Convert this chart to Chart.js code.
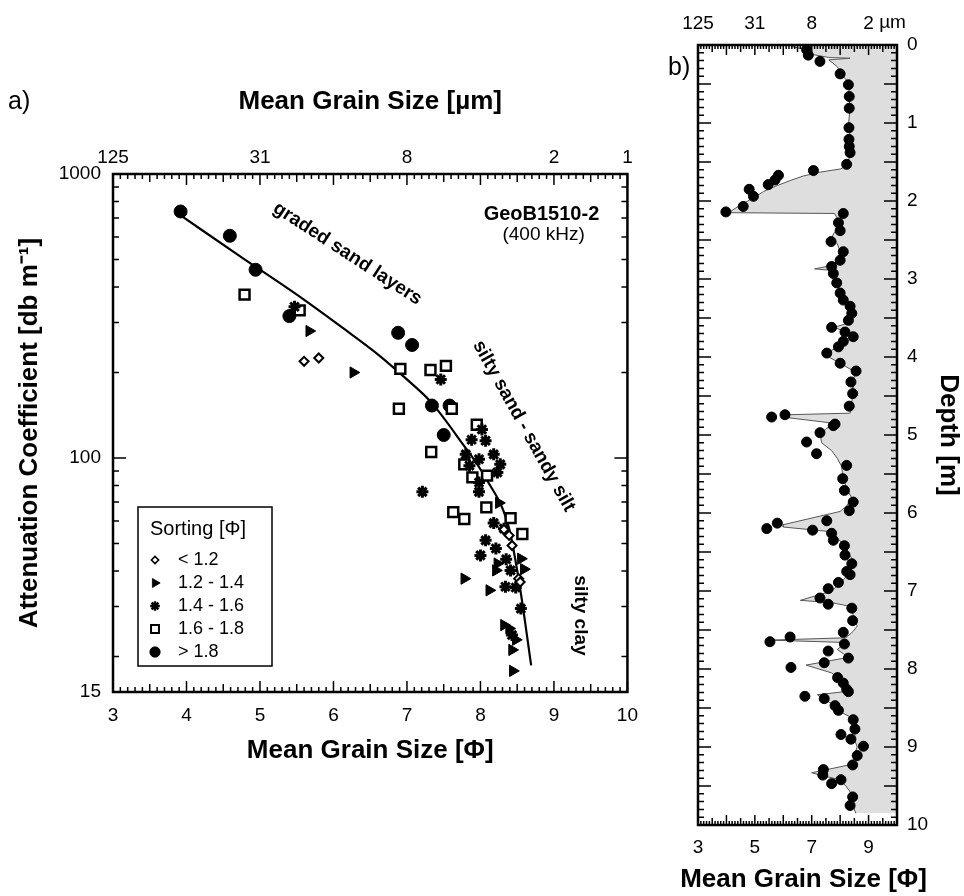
<!DOCTYPE html>
<html>
<head>
<meta charset="utf-8">
<script src="https://cdn.jsdelivr.net/npm/chart.js@4.4.0/dist/chart.umd.min.js"></script>
<style>
  html, body { margin: 0; padding: 0; background: #fff; }
  #wrap { position: relative; width: 964px; height: 896px; overflow: hidden; }
  #ca { position: absolute; left: 0; top: 0; }
  #cb { position: absolute; left: 640px; top: 0; }
</style>
</head>
<body>
<div id="wrap">
  <canvas id="ca" width="650" height="800"></canvas>
  <canvas id="cb" width="324" height="896"></canvas>
</div>
<script>
// ---- panel a: attenuation vs. mean grain size, grouped by sorting class ----
const sortLabels = ['< 1.2', '1.2 - 1.4', '1.4 - 1.6', '1.6 - 1.8', '> 1.8'];

const phiS1 = [5.60, 5.80, 8.32, 8.39, 8.43, 8.52, 8.54];
const attS1 = [219, 225, 56, 53.4, 49.2, 37.6, 36.6];

const phiS2 = [5.67, 6.27, 8.25, 8.21, 8.23, 8.55, 8.59, 7.78, 8.12, 8.32, 8.39, 8.48, 8.43, 8.44];
const attS2 = [280, 200, 69.5, 40.2, 42.5, 44.2, 40.6, 37.6, 34.2, 25.8, 25.1, 22.9, 21.1, 17.8];

const phiS3 = [5.47, 7.46, 8.02, 8.07, 7.88, 7.80, 7.98, 8.18, 8.27, 8.23, 7.98, 7.98, 7.21, 8.18,
               8.32, 8.07, 8.21, 8.00, 8.41, 8.34, 8.48, 8.55, 8.43, 7.85, 8.35];
const attS3 = [341, 189, 126, 115, 116, 103, 99, 103, 95, 89, 82, 76, 76, 59,
               56.4, 51.3, 48, 45.4, 40.2, 35.2, 35, 29.5, 23.8, 94, 44];

const phiS4 = [4.79, 5.54, 6.91, 7.32, 7.53, 6.89, 7.61, 7.95, 7.33, 7.78, 7.89, 8.09, 8.08, 7.63, 7.78, 8.41, 8.57];
const attS4 = [376, 331, 206, 204, 211, 149, 149, 131, 105, 95, 85.5, 86.7, 67, 64.5, 61, 61.4, 54];

const phiS5 = [3.92, 4.59, 4.94, 5.40, 6.88, 7.07, 7.34, 7.58, 7.50];
const attS5 = [738, 606, 460, 316, 276, 250, 153, 153, 120.5];

// regression curve
const fitPhi = [3.95, 4.74, 5.54, 6.08, 6.62, 6.98, 7.33, 7.71, 8.08, 8.39, 8.54, 8.69];
const fitAtt = [706, 511, 370, 293, 230, 191, 157, 116.6, 84.3, 56.4, 34.7, 18.6];

const phiTicksA = [3, 4, 5, 6, 7, 8, 9, 10];
const umTickPhiA = [3, 5, 7, 9, 10];
const umTickLabelsA = ['125', '31', '8', '2', '1'];
const attTicks = [15, 100, 1000];

// ---- panel b: down-core profile GeoB1510-2 ----
const sampleDepth = [0.06, 0.13, 0.21, 0.37, 0.51, 0.66, 0.81, 1.06, 1.21, 1.30, 1.38, 1.53, 1.61, 1.67, 1.73,
  1.79, 1.85, 1.94, 2.07, 2.14, 2.16, 2.28, 2.38, 2.52, 2.65, 2.76, 2.84, 2.93, 3.05, 3.18, 3.27, 3.35,
  3.44, 3.53, 3.62, 3.68, 3.74, 3.80, 3.87, 3.95, 4.08, 4.18, 4.32, 4.47, 4.63, 4.74, 4.77, 4.86, 4.88,
  4.97, 5.09, 5.24, 5.39, 5.56, 5.71, 5.86, 5.97, 6.10, 6.13, 6.20, 6.22, 6.26, 6.35, 6.42, 6.54, 6.65,
  6.75, 6.79, 6.89, 6.97, 7.09, 7.17, 7.22, 7.38, 7.53, 7.59, 7.65, 7.68, 7.77, 7.86, 7.92, 7.98, 8.11,
  8.18, 8.26, 8.29, 8.35, 8.38, 8.47, 8.53, 8.65, 8.77, 8.84, 8.90, 8.99, 9.11, 9.23, 9.29, 9.36, 9.42,
  9.47, 9.64, 9.75];
const samplePhi = [6.82, 6.88, 7.29, 8.00, 8.29, 8.32, 8.32, 8.31, 8.31, 8.32, 8.35, 8.23, 7.06, 5.83, 5.71,
  5.47, 4.80, 4.95, 4.59, 3.98, 8.11, 7.94, 8.00, 7.68, 8.11, 8.00, 7.70, 7.76, 7.88, 8.00, 8.11, 8.35,
  8.41, 8.29, 7.70, 8.17, 8.46, 8.11, 7.94, 7.53, 8.00, 8.56, 8.38, 8.44, 8.32, 6.06, 5.59, 7.82, 7.76,
  7.29, 6.82, 7.17, 8.23, 8.09, 8.15, 8.46, 8.32, 7.53, 5.79, 5.42, 7.03, 7.70, 7.76, 8.15, 8.17, 8.41,
  8.23, 8.35, 7.94, 7.58, 7.29, 7.58, 8.41, 8.44, 8.11, 6.24, 5.53, 8.15, 7.58, 8.29, 7.44, 6.27, 7.91,
  8.11, 8.23, 8.29, 6.76, 7.44, 7.82, 7.94, 8.46, 8.52, 8.03, 8.38, 8.82, 8.60, 8.44, 7.41, 7.39, 8.03,
  7.70, 8.44, 8.35];

// continuous (high resolution) profile
const profileDepth = [0.02, 0.06, 0.12, 0.16, 0.17, 0.19, 0.28, 0.40, 0.50, 0.62, 0.80, 1.00, 1.20, 1.40,
  1.55, 1.59, 1.63, 1.68, 1.73, 1.80, 1.88, 1.97, 2.05, 2.12, 2.15, 2.16, 2.22, 2.28, 2.33, 2.40, 2.47,
  2.55, 2.65, 2.75, 2.82, 2.87, 2.89, 2.97, 3.05, 3.15, 3.25, 3.35, 3.45, 3.55, 3.62, 3.68, 3.76, 3.82,
  3.90, 3.95, 4.00, 4.10, 4.20, 4.30, 4.45, 4.62, 4.72, 4.74, 4.78, 4.85, 4.92, 5.00, 5.10, 5.20, 5.30,
  5.40, 5.55, 5.70, 5.80, 5.90, 5.98, 6.15, 6.18, 6.24, 6.32, 6.40, 6.55, 6.62, 6.72, 6.82, 6.90, 7.00,
  7.12, 7.15, 7.20, 7.30, 7.45, 7.52, 7.60, 7.63, 7.66, 7.75, 7.85, 7.95, 8.05, 8.15, 8.28, 8.33, 8.40,
  8.47, 8.55, 8.63, 8.75, 8.90, 9.00, 9.10, 9.22, 9.33, 9.36, 9.42, 9.50, 9.60, 9.75, 9.85];
const profilePhi = [6.3, 6.8, 7.0, 7.6, 8.35, 7.6, 7.9, 8.1, 8.35, 8.3, 8.35, 8.3, 8.35, 8.35,
  8.25, 8.0, 7.3, 6.7, 6.3, 5.8, 5.3, 4.9, 4.5, 4.2, 4.1, 7.8, 7.9, 7.8, 8.0, 7.8, 7.7,
  7.9, 8.0, 7.9, 7.8, 7.1, 7.7, 7.8, 7.9, 8.0, 8.2, 8.4, 8.45, 8.4, 7.8, 8.2, 8.45, 8.1,
  7.8, 7.4, 7.6, 8.1, 8.55, 8.45, 8.45, 8.4, 8.35, 6.2, 6.2, 7.8, 7.5, 7.3, 7.35, 7.7, 7.9,
  8.05, 8.1, 8.25, 8.4, 8.25, 8.0, 6.0, 6.0, 7.7, 7.9, 8.1, 8.35, 8.5, 8.4, 8.2, 8.0, 7.7,
  6.6, 7.7, 8.4, 8.45, 8.6, 8.45, 8.2, 5.5, 8.2, 7.9, 8.3, 6.8, 7.7, 8.1, 8.4, 7.2, 7.5,
  7.8, 8.0, 8.45, 8.55, 8.5, 8.6, 8.5, 8.45, 7.0, 7.3, 8.0, 8.2, 8.4, 8.45, 8.55];

const phiTicksB = [3, 5, 7, 9];
const umTickLabelsB = ['125', '31', '8', '2'];
const depthTicks = [0, 1, 2, 3, 4, 5, 6, 7, 8, 9, 10];

// ---- styling ----
const FONT = '"Liberation Sans", Arial, Helvetica, sans-serif';
Chart.defaults.font.family = FONT;
Chart.defaults.color = '#000';

const markerStyles = [
  { pointStyle: 'rectRot', radius: 4.5, rotation: 0, borderWidth: 2, backgroundColor: '#fff' },
  { pointStyle: 'triangle', radius: 6.5, rotation: 90, borderWidth: 1, backgroundColor: '#000' },
  { pointStyle: 'star', radius: 6, rotation: 0, borderWidth: 3, backgroundColor: '#000' },
  { pointStyle: 'rect', radius: 7, rotation: 0, borderWidth: 2.5, backgroundColor: '#fff' },
  { pointStyle: 'circle', radius: 6.5, rotation: 0, borderWidth: 1, backgroundColor: '#000' },
];

const pts = (xs, ys) => xs.map((x, i) => ({ x, y: ys[i] }));
const fixTicks = (vals) => (s) => { s.ticks = vals.map(v => ({ value: v })); };
const tickFont = { size: 19, family: FONT };
const titleFont = { size: 26, weight: 'bold', family: FONT };
const noGrid = { display: false, drawTicks: false };

function drawText(ctx, text, x, y, deg, font, align) {
  ctx.save();
  ctx.translate(x, y);
  ctx.rotate(deg * Math.PI / 180);
  ctx.font = font;
  ctx.fillStyle = '#000';
  ctx.textAlign = align || 'center';
  ctx.textBaseline = 'middle';
  ctx.fillText(text, 0, 0);
  ctx.restore();
}

// frame with inward ticks, annotations and the sorting legend of panel a
const panelA = {
  id: 'panelA',
  afterDraw(chart) {
    const { ctx, chartArea: a, scales: { x, y } } = chart;
    ctx.save();
    ctx.strokeStyle = '#000';
    ctx.lineWidth = 1.5;
    ctx.beginPath();
    for (let i = 30; i <= 100; i++) {
      const px = x.getPixelForValue(i / 10);
      const len = i % 10 === 0 ? 11 : (i % 5 === 0 ? 8 : 5);
      ctx.moveTo(px, a.bottom); ctx.lineTo(px, a.bottom - len);
      ctx.moveTo(px, a.top); ctx.lineTo(px, a.top + len);
    }
    for (let d = 10; d <= 100; d *= 10) {
      for (let k = 1; k <= 9; k++) {
        const v = d * k;
        if (v <= 15 || v >= 1000) continue;
        const py = y.getPixelForValue(v);
        const len = v === 100 ? 13 : 6;
        ctx.moveTo(a.left, py); ctx.lineTo(a.left + len, py);
        ctx.moveTo(a.right, py); ctx.lineTo(a.right - len, py);
      }
    }
    ctx.stroke();
    ctx.lineWidth = 2.5;
    ctx.strokeRect(a.left, a.top, a.right - a.left, a.bottom - a.top);

    const b19 = 'bold 19px ' + FONT;
    drawText(ctx, 'graded sand layers', x.getPixelForValue(6.19), y.getPixelForValue(524), 33, b19);
    drawText(ctx, 'silty sand - sandy silt', x.getPixelForValue(8.59), y.getPixelForValue(129.5), 61, b19);
    drawText(ctx, 'silty clay', x.getPixelForValue(9.36), y.getPixelForValue(27.9), 90, b19);
    drawText(ctx, 'GeoB1510-2', x.getPixelForValue(8.83), y.getPixelForValue(718), 0, 'bold 20px ' + FONT);
    drawText(ctx, '(400 kHz)', x.getPixelForValue(8.86), y.getPixelForValue(611), 0, '19px ' + FONT);
    drawText(ctx, 'a)', 8, 102, 0, '25px ' + FONT, 'left');

    // legend box
    const lx = 138, ly = 507, lw = 134, lh = 159;
    ctx.lineWidth = 1.5;
    ctx.strokeRect(lx, ly, lw, lh);
    drawText(ctx, 'Sorting [\u03A6]', lx + 12, ly + 22, 0, '20px ' + FONT, 'left');
    sortLabels.forEach((lab, i) => {
      const cy = ly + 53 + i * 23;
      const m = markerStyles[i];
      ctx.fillStyle = m.backgroundColor;
      ctx.strokeStyle = '#000';
      ctx.lineWidth = m.borderWidth * 0.8;
      Chart.helpers.drawPoint(ctx, { pointStyle: m.pointStyle, rotation: m.rotation,
        radius: m.radius * 0.8, borderWidth: m.borderWidth * 0.8 }, lx + 17, cy);
      drawText(ctx, lab, lx + 40, cy, 0, '18px ' + FONT, 'left');
    });
    ctx.restore();
  }
};

const datasetsA = [phiS1, phiS2, phiS3, phiS4, phiS5].map((xs, i) => {
  const ys = [attS1, attS2, attS3, attS4, attS5][i];
  const m = markerStyles[i];
  return {
    label: sortLabels[i],
    data: pts(xs, ys),
    pointStyle: m.pointStyle,
    pointRotation: m.rotation,
    pointRadius: m.radius,
    pointBorderWidth: m.borderWidth,
    pointBackgroundColor: m.backgroundColor,
    pointBorderColor: '#000',
    showLine: false,
  };
});
datasetsA.push({
  label: 'fit',
  data: pts(fitPhi, fitAtt),
  showLine: true,
  borderColor: '#000',
  borderWidth: 2.2,
  pointRadius: 0,
  cubicInterpolationMode: 'monotone',
});

new Chart(document.getElementById('ca'), {
  type: 'scatter',
  data: { datasets: datasetsA },
  options: {
    responsive: false,
    animation: false,
    layout: { padding: { left: 0, top: 0, right: 21, bottom: 0 } },
    plugins: { legend: { display: false }, tooltip: { enabled: false } },
    scales: {
      x: {
        type: 'linear', position: 'bottom', min: 3, max: 10, bounds: 'data',
        afterBuildTicks: fixTicks(phiTicksA),
        afterFit: (s) => { s.height = 108; },
        grid: noGrid, border: { display: false },
        ticks: { font: tickFont, padding: 12, maxRotation: 0, autoSkip: false, callback: (v) => String(v) },
        title: { display: true, text: 'Mean Grain Size [\u03A6]', font: titleFont, padding: { top: 0, bottom: 34 } },
      },
      xTop: {
        type: 'linear', position: 'top', min: 3, max: 10, bounds: 'data',
        afterBuildTicks: fixTicks(umTickPhiA),
        afterFit: (s) => { s.height = 174; },
        grid: noGrid, border: { display: false },
        ticks: { font: tickFont, padding: 5, maxRotation: 0, autoSkip: false, callback: (v, i) => umTickLabelsA[i] },
        title: { display: true, text: 'Mean Grain Size [\u00B5m]', font: titleFont, padding: { top: 86, bottom: 0 } },
      },
      y: {
        type: 'logarithmic', position: 'left', min: 15, max: 1000, bounds: 'data',
        afterBuildTicks: fixTicks(attTicks),
        afterFit: (s) => { s.width = 113; },
        grid: noGrid, border: { display: false },
        ticks: { font: tickFont, padding: 12, autoSkip: false, callback: (v) => String(v) },
        title: { display: true, text: 'Attenuation Coefficient [db m\u207B\u00B9]', font: titleFont, padding: { top: 14, bottom: 0 } },
      },
    },
  },
  plugins: [panelA],
});

// frame with inward ticks for panel b
const panelB = {
  id: 'panelB',
  afterDraw(chart) {
    const { ctx, chartArea: a, scales: { x, y, xTop } } = chart;
    ctx.save();
    ctx.strokeStyle = '#000';
    ctx.lineWidth = 1.5;
    ctx.beginPath();
    for (let i = 30; i <= 100; i++) {
      const px = x.getPixelForValue(i / 10);
      const len = i % 10 === 0 ? 10 : (i % 5 === 0 ? 7 : 4);
      ctx.moveTo(px, a.bottom); ctx.lineTo(px, a.bottom - len);
      ctx.moveTo(px, a.top); ctx.lineTo(px, a.top + len);
    }
    for (let i = 0; i <= 100; i++) {
      const py = y.getPixelForValue(i / 10);
      const len = i % 5 === 0 ? 13 : 6;
      ctx.moveTo(a.left, py); ctx.lineTo(a.left + len, py);
      ctx.moveTo(a.right, py); ctx.lineTo(a.right - len, py);
    }
    ctx.stroke();
    ctx.lineWidth = 2.5;
    ctx.strokeRect(a.left, a.top, a.right - a.left, a.bottom - a.top);

    // unit after the last top label
    ctx.font = '19px ' + FONT;
    const w2 = ctx.measureText('2').width;
    drawText(ctx, ' \u00B5m', xTop.getPixelForValue(9) + w2 / 2, 23, 0, '19px ' + FONT, 'left');
    drawText(ctx, 'b)', 28, 68, 0, '25px ' + FONT, 'left');
    // axis title drawn here so it is not squeezed to the narrow plot width
    drawText(ctx, 'Mean Grain Size [\u03A6]', (a.left + a.right) / 2 + 6, 880, 0, 'bold 26px ' + FONT);
    ctx.restore();
  }
};

new Chart(document.getElementById('cb'), {
  type: 'line',
  data: {
    datasets: [
      {
        label: 'samples',
        data: pts(samplePhi, sampleDepth),
        showLine: false,
        pointRadius: 5,
        pointBackgroundColor: '#000',
        pointBorderColor: '#000',
        fill: false,
      },
      {
        label: 'profile',
        data: pts(profilePhi, profileDepth),
        borderColor: '#555',
        borderWidth: 1,
        pointRadius: 0,
        tension: 0,
        backgroundColor: '#dedede',
        fill: { value: 10 },
      },
    ],
  },
  options: {
    responsive: false,
    animation: false,
    indexAxis: 'y',
    layout: { padding: { left: 58, top: 0, right: 0, bottom: 0 } },
    plugins: { legend: { display: false }, tooltip: { enabled: false } },
    scales: {
      x: {
        type: 'linear', position: 'bottom', min: 3, max: 10, bounds: 'data',
        afterBuildTicks: fixTicks(phiTicksB),
        afterFit: (s) => { s.height = 71; },
        grid: noGrid, border: { display: false },
        ticks: { font: tickFont, padding: 11, maxRotation: 0, autoSkip: false, callback: (v) => String(v) },
      },
      xTop: {
        type: 'linear', position: 'top', min: 3, max: 10, bounds: 'data',
        afterBuildTicks: fixTicks(phiTicksB),
        afterFit: (s) => { s.height = 45; },
        grid: noGrid, border: { display: false },
        ticks: { font: tickFont, padding: 10, maxRotation: 0, autoSkip: false, callback: (v, i) => umTickLabelsB[i] },
      },
      y: {
        type: 'linear', position: 'right', min: 0, max: 10, reverse: true, bounds: 'data',
        afterBuildTicks: fixTicks(depthTicks),
        afterFit: (s) => { s.width = 67; },
        grid: noGrid, border: { display: false },
        ticks: { font: tickFont, padding: 10, autoSkip: false, callback: (v) => String(v) },
        title: { display: true, text: 'Depth [m]', font: titleFont, padding: { top: 0, bottom: 0 } },
      },
    },
  },
  plugins: [panelB],
});
</script>
</body>
</html>
